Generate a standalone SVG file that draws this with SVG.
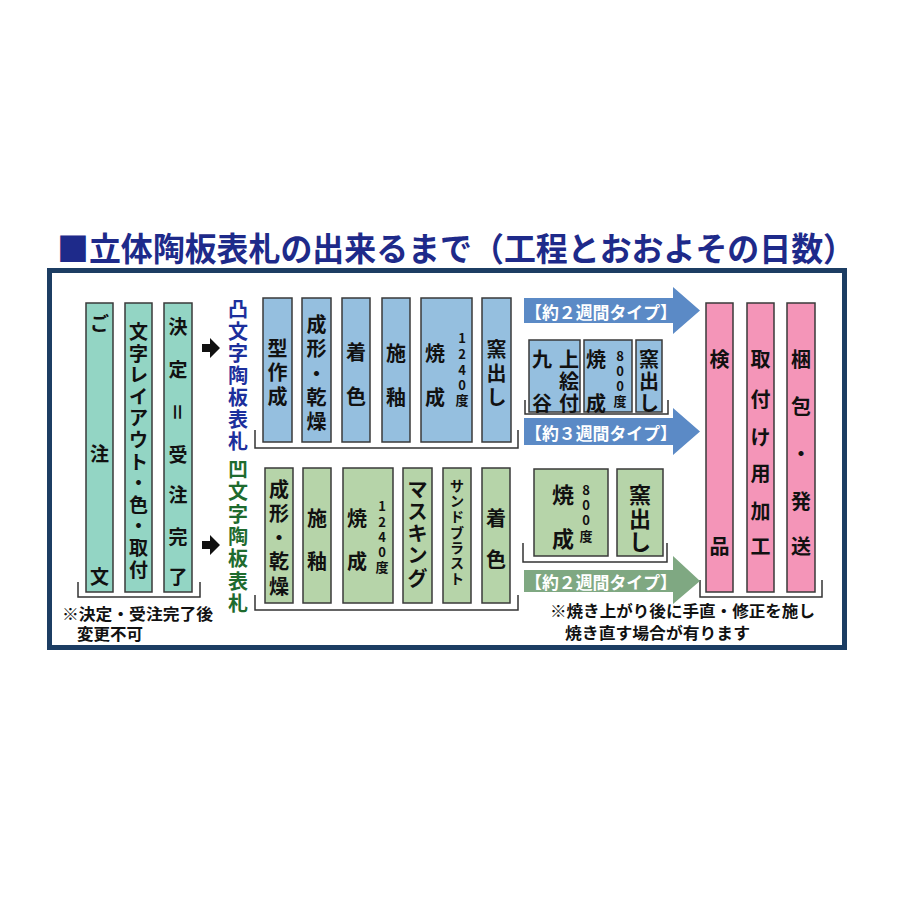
<svg xmlns="http://www.w3.org/2000/svg" width="900" height="900" viewBox="0 0 900 900">
<style>
.t{font-family:"Noto Sans CJK JP","Noto Sans",sans-serif;font-weight:bold;fill:#111;text-anchor:middle;dominant-baseline:central}
.b{font-size:20px}
.s{font-size:13px}
.teal{fill:#93d5c4;stroke:#3a3a3a;stroke-width:1.5}
.blue{fill:#95bfdf;stroke:#3a3a3a;stroke-width:1.5}
.green{fill:#b6d4a9;stroke:#3a3a3a;stroke-width:1.5}
.pink{fill:#f495b8;stroke:#3a3a3a;stroke-width:1.5}
.br{fill:none;stroke:#333;stroke-width:1.5}
.al{font-family:"Noto Sans CJK JP",sans-serif;font-weight:bold;font-size:17px;fill:#fff;dominant-baseline:central}
.note{font-family:"Noto Sans CJK JP",sans-serif;font-weight:bold;font-size:16px;fill:#111;dominant-baseline:central}
</style>
<rect width="900" height="900" fill="#fff"/>
<text x="57" y="261" font-family="Noto Sans CJK JP,sans-serif" font-weight="bold" font-size="33" fill="#1e2a8a" textLength="798" lengthAdjust="spacingAndGlyphs">■立体陶板表札の出来るまで（工程とおおよその日数）</text>
<rect x="49.5" y="270.5" width="795" height="377" fill="#fff" stroke="#1c3d63" stroke-width="5"/>

<g id="connectors">
<path d="M202,344 H210 V338 L220,348 L210,358 V352 H202 Z" fill="#111"/>
<path d="M202,541 H210 V535 L220,545 L210,555 V549 H202 Z" fill="#111"/>
<polyline class="br" points="78,582 78,597 200,597 200,582"/>
<polyline class="br" points="255,430 255,448 518,448 518,430"/>
<polyline class="br" points="255,595 255,610 518,610 518,595"/>
<polyline class="br" points="525,400 525,414 668,414 668,400"/>
<polyline class="br" points="523,543 523,562 667,562 667,543"/>
<polyline class="br" points="700,580 700,597 822,597 822,580"/>
<path d="M524,298 H673 V287 L700,310.5 L673,334 V323 H524 Z" fill="#5b8ac6"/>
<path d="M524,418 H673 V408 L700,431.5 L673,455 V445 H524 Z" fill="#5b8ac6"/>
<path d="M524,570 H673 V556 L700,581 L673,604 V592 H524 Z" fill="#7fa882"/>
<text class="al" x="525" y="311" textLength="152" lengthAdjust="spacingAndGlyphs">【約２週間タイプ】</text>
<text class="al" x="525" y="432" textLength="152" lengthAdjust="spacingAndGlyphs">【約３週間タイプ】</text>
<text class="al" x="525" y="581" textLength="152" lengthAdjust="spacingAndGlyphs">【約２週間タイプ】</text>
</g>

<g id="order">
<rect class="teal" x="86" y="303" width="27" height="289"/>
<text class="t" font-size="19"><tspan x="99.5" y="322">ご</tspan><tspan x="99.5" y="452">注</tspan><tspan x="99.5" y="575">文</tspan></text>
</g>
<g id="layout">
<rect class="teal" x="125" y="303" width="27" height="289"/>
<text class="t" font-size="19"><tspan x="138.5" y="330">文</tspan><tspan x="138.5" y="351.6">字</tspan><tspan x="138.5" y="373.2">レ</tspan><tspan x="138.5" y="394.8">イ</tspan><tspan x="138.5" y="416.4">ア</tspan><tspan x="138.5" y="438">ウ</tspan><tspan x="138.5" y="459.6">ト</tspan><tspan x="138.5" y="481.2">・</tspan><tspan x="138.5" y="502.8">色</tspan><tspan x="138.5" y="524.4">・</tspan><tspan x="138.5" y="546">取</tspan><tspan x="138.5" y="567.6">付</tspan></text>
</g>
<g id="decision">
<rect class="teal" x="164" y="303" width="28" height="289"/>
<text class="t" font-size="19"><tspan x="178" y="325">決</tspan><tspan x="178" y="368">定</tspan><tspan x="178" y="453">受</tspan><tspan x="178" y="493">注</tspan><tspan x="178" y="535">完</tspan><tspan x="178" y="575">了</tspan></text>
<text class="t" font-size="19" transform="rotate(90 178 412)" x="178" y="412">＝</text>
</g>
<g id="note-left">
<text class="note" x="62" y="613" textLength="151" lengthAdjust="spacingAndGlyphs">※決定・受注完了後</text>
<text class="note" x="77" y="633" textLength="66" lengthAdjust="spacingAndGlyphs">変更不可</text>
</g>

<g id="label-convex">
<text class="t" font-size="20" style="fill:#1c2f9c"><tspan x="238" y="308">凸</tspan><tspan x="238" y="330">文</tspan><tspan x="238" y="352">字</tspan><tspan x="238" y="374">陶</tspan><tspan x="238" y="396">板</tspan><tspan x="238" y="418">表</tspan><tspan x="238" y="440">札</tspan></text>
</g>
<g id="label-concave">
<text class="t" font-size="20" style="fill:#1e6b2e"><tspan x="238" y="468">凹</tspan><tspan x="238" y="490.3">文</tspan><tspan x="238" y="512.6">字</tspan><tspan x="238" y="535">陶</tspan><tspan x="238" y="557.3">板</tspan><tspan x="238" y="579.6">表</tspan><tspan x="238" y="602">札</tspan></text>
</g>

<g id="u-mold">
<rect class="blue" x="263" y="298" width="29" height="144"/>
<text class="t b"><tspan x="277.5" y="347">型</tspan><tspan x="277.5" y="371">作</tspan><tspan x="277.5" y="395">成</tspan></text>
</g>
<g id="u-form">
<rect class="blue" x="302" y="298" width="29" height="144"/>
<text class="t b"><tspan x="316.5" y="323">成</tspan><tspan x="316.5" y="347">形</tspan><tspan x="316.5" y="372">・</tspan><tspan x="316.5" y="396">乾</tspan><tspan x="316.5" y="420">燥</tspan></text>
</g>
<g id="u-color">
<rect class="blue" x="342" y="298" width="28" height="144"/>
<text class="t b"><tspan x="356" y="351">着</tspan><tspan x="356" y="395">色</tspan></text>
</g>
<g id="u-glaze">
<rect class="blue" x="382" y="298" width="28" height="144"/>
<text class="t b"><tspan x="396" y="352">施</tspan><tspan x="396" y="396">釉</tspan></text>
</g>
<g id="u-fire">
<rect class="blue" x="421" y="298" width="51" height="144"/>
<text class="t b"><tspan x="435" y="352">焼</tspan><tspan x="435" y="396">成</tspan></text>
<text class="t s"><tspan x="462" y="337">1</tspan><tspan x="462" y="353">2</tspan><tspan x="462" y="369">4</tspan><tspan x="462" y="384">0</tspan><tspan x="462" y="399">度</tspan></text>
</g>
<g id="u-kiln">
<rect class="blue" x="482" y="298" width="29" height="144"/>
<text class="t b"><tspan x="496.5" y="348">窯</tspan><tspan x="496.5" y="372">出</tspan><tspan x="496.5" y="396">し</tspan></text>
</g>

<g id="u-kutani">
<rect class="blue" x="529" y="340" width="51" height="72"/>
<text class="t b"><tspan x="542" y="358">九</tspan><tspan x="542" y="402">谷</tspan><tspan x="569" y="358">上</tspan><tspan x="569" y="380">絵</tspan><tspan x="569" y="402">付</tspan></text>
</g>
<g id="u-fire800">
<rect class="blue" x="584" y="340" width="48" height="72"/>
<text class="t b"><tspan x="596" y="358">焼</tspan><tspan x="596" y="402">成</tspan></text>
<text class="t s"><tspan x="620" y="355">8</tspan><tspan x="620" y="370">0</tspan><tspan x="620" y="385">0</tspan><tspan x="620" y="400">度</tspan></text>
</g>
<g id="u-kiln2">
<rect class="blue" x="636" y="340" width="26" height="72"/>
<text class="t b"><tspan x="649" y="358">窯</tspan><tspan x="649" y="380">出</tspan><tspan x="649" y="402">し</tspan></text>
</g>

<g id="l-form">
<rect class="green" x="265" y="468" width="28" height="135"/>
<text class="t b"><tspan x="279" y="488">成</tspan><tspan x="279" y="512">形</tspan><tspan x="279" y="536">・</tspan><tspan x="279" y="560">乾</tspan><tspan x="279" y="585">燥</tspan></text>
</g>
<g id="l-glaze">
<rect class="green" x="303" y="468" width="28" height="135"/>
<text class="t b"><tspan x="317" y="517">施</tspan><tspan x="317" y="560">釉</tspan></text>
</g>
<g id="l-fire">
<rect class="green" x="343" y="468" width="50" height="135"/>
<text class="t b"><tspan x="357" y="517">焼</tspan><tspan x="357" y="560">成</tspan></text>
<text class="t s"><tspan x="382" y="505">1</tspan><tspan x="382" y="521">2</tspan><tspan x="382" y="536">4</tspan><tspan x="382" y="551">0</tspan><tspan x="382" y="566">度</tspan></text>
</g>
<g id="l-mask">
<rect class="green" x="403" y="468" width="29" height="135"/>
<text class="t b"><tspan x="417.5" y="488">マ</tspan><tspan x="417.5" y="510">ス</tspan><tspan x="417.5" y="532">キ</tspan><tspan x="417.5" y="554">ン</tspan><tspan x="417.5" y="577">グ</tspan></text>
</g>
<g id="l-blast">
<rect class="green" x="443" y="468" width="28" height="135"/>
<text class="t" font-size="14"><tspan x="457" y="485">サ</tspan><tspan x="457" y="500">ン</tspan><tspan x="457" y="516">ド</tspan><tspan x="457" y="532">ブ</tspan><tspan x="457" y="547">ラ</tspan><tspan x="457" y="562">ス</tspan><tspan x="457" y="578">ト</tspan></text>
</g>
<g id="l-color">
<rect class="green" x="482" y="468" width="28" height="135"/>
<text class="t b"><tspan x="496" y="517">着</tspan><tspan x="496" y="558">色</tspan></text>
</g>

<g id="l-fire800">
<rect class="green" x="534" y="469" width="74" height="87"/>
<text class="t" font-size="22"><tspan x="563" y="493">焼</tspan><tspan x="563" y="537">成</tspan></text>
<text class="t s"><tspan x="586" y="489">8</tspan><tspan x="586" y="504">0</tspan><tspan x="586" y="519">0</tspan><tspan x="586" y="535">度</tspan></text>
</g>
<g id="l-kiln">
<rect class="green" x="617" y="469" width="46" height="87"/>
<text class="t" font-size="22"><tspan x="640" y="493">窯</tspan><tspan x="640" y="517">出</tspan><tspan x="640" y="540">し</tspan></text>
</g>

<g id="inspect">
<rect class="pink" x="706" y="303" width="27" height="289"/>
<text class="t b"><tspan x="719.5" y="358">検</tspan><tspan x="719.5" y="545">品</tspan></text>
</g>
<g id="fitting">
<rect class="pink" x="747" y="303" width="27" height="289"/>
<text class="t b"><tspan x="760.5" y="358">取</tspan><tspan x="760.5" y="398">付</tspan><tspan x="760.5" y="436">け</tspan><tspan x="760.5" y="472">用</tspan><tspan x="760.5" y="510">加</tspan><tspan x="760.5" y="545">工</tspan></text>
</g>
<g id="ship">
<rect class="pink" x="787" y="303" width="28" height="289"/>
<text class="t b"><tspan x="801" y="358">梱</tspan><tspan x="801" y="405">包</tspan><tspan x="801" y="452">・</tspan><tspan x="801" y="500">発</tspan><tspan x="801" y="545">送</tspan></text>
</g>
<g id="note-right">
<text class="note" x="550" y="610" textLength="265" lengthAdjust="spacingAndGlyphs">※焼き上がり後に手直・修正を施し</text>
<text class="note" x="565" y="632" textLength="185" lengthAdjust="spacingAndGlyphs">焼き直す場合が有ります</text>
</g>
</svg>
